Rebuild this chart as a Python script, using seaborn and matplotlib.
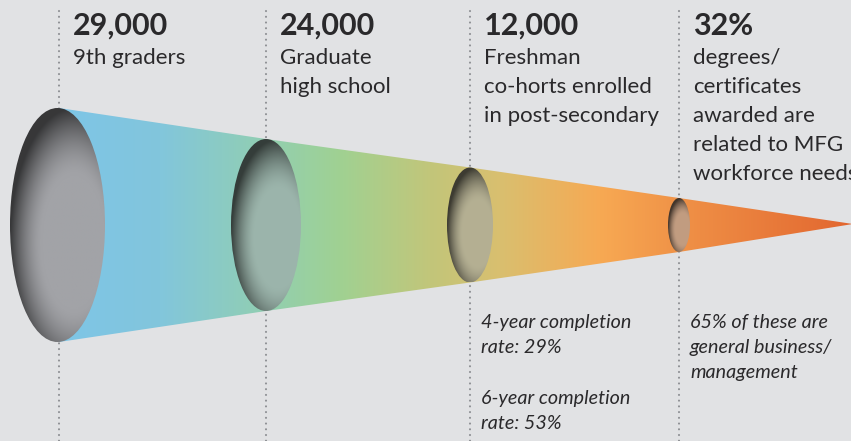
import numpy as np
import pandas as pd
import matplotlib
matplotlib.use("Agg")
import matplotlib.pyplot as plt
from matplotlib.patches import Ellipse, Polygon
from matplotlib.colors import to_rgb
import seaborn as sns

# ---------------- data ----------------
headline_values = ["29,000", "24,000", "12,000", "32%"]
stage_descriptions = [
    ["9th graders"],
    ["Graduate", "high school"],
    ["Freshman", "co-horts enrolled", "in post-secondary"],
    ["degrees/", "certificates", "awarded are", "related to MFG", "workforce needs"],
]
stage_notes = [
    [],
    [],
    ["4-year completion", "rate: 29%", "", "6-year completion", "rate: 53%"],
    ["65% of these are", "general business/", "management"],
]

# ---------------- layout / style ----------------
W, H = 851, 441
BG = "#e1e2e4"
TEXT = "#2a292b"
DOT = "#8d8f93"
stage_x = [59, 266, 470, 679]
ring_half_h = [117, 86, 57.5, 27]
ring_half_w = [47.5, 35, 23, 11]
center_y = 225
apex = (853, 224)
grad_stops = [
    (59, "#7ec5e7"), (160, "#82c6dc"), (270, "#92cfb0"), (340, "#a0d192"),
    (430, "#c2c67a"), (500, "#d9bf6f"), (600, "#f7a953"), (700, "#ee8c44"),
    (853, "#e2662f"),
]

sns.set_theme(style="white")
plt.rcParams["font.family"] = ["Lato", "DejaVu Sans"]

fig = plt.figure(figsize=(W / 100, H / 100), dpi=100, facecolor=BG)
ax = fig.add_axes([0, 0, 1, 1])
ax.set_facecolor(BG)

# dotted guide lines (seaborn)
guide = pd.DataFrame({
    "stage": np.repeat(np.arange(len(stage_x)), 2),
    "x": np.repeat(stage_x, 2),
    "y": [11, H] * len(stage_x),
})
sns.lineplot(data=guide, x="x", y="y", units="stage", estimator=None, sort=False,
             orient="y", color=DOT, lw=1.5, linestyle=(0, (0.05, 2.7)),
             dash_capstyle="round", ax=ax, zorder=1, legend=False)
ax.set_xlim(0, W)
ax.set_ylim(H, 0)
ax.axis("off")

# cone gradient
xs = np.arange(0, W + 3)
sx = [s[0] for s in grad_stops]
cols = np.array([to_rgb(s[1]) for s in grad_stops])
grad = np.stack([np.interp(xs, sx, cols[:, k]) for k in range(3)], axis=-1)[None, :, :]
top_pts = [(x, center_y - h) for x, h in zip(stage_x, ring_half_h)]
bot_pts = [(x, center_y + h) for x, h in zip(stage_x, ring_half_h)][::-1]
cone = Polygon(top_pts + [apex] + bot_pts, closed=True, facecolor="none", edgecolor="none")
ax.add_patch(cone)
im = ax.imshow(grad, extent=(0, W + 3, H, 0), aspect="auto", zorder=2, interpolation="bilinear")
im.set_clip_path(cone)


def cone_color(x):
    return np.array([np.interp(x, sx, cols[:, k]) for k in range(3)])


gray = np.array(to_rgb("#a2a3a7"))
for i, (x, a, b) in enumerate(zip(stage_x, ring_half_w, ring_half_h)):
    cx = x - 1.5 if i == 0 else x
    n = 200
    u, v = np.meshgrid(np.linspace(-1, 1, n), np.linspace(-1, 1, n))
    d = np.sqrt(((u - 0.35) / 1.35) ** 2 + ((v - 0.15) / 1.15) ** 2)
    dark = np.clip((d - 0.5) / 0.5, 0, 1) ** 1.6 * 0.66
    if i == 0:
        base = gray
    else:
        base = 0.6 * gray + 0.4 * cone_color(x)
    img = base[None, None, :] * (1 - dark[..., None])
    el = Ellipse((cx, center_y), 2 * a, 2 * b, facecolor="none", edgecolor="none")
    ax.add_patch(el)
    eim = ax.imshow(np.clip(img, 0, 1), extent=(cx - a, cx + a, center_y + b, center_y - b),
                    aspect="auto", zorder=3, interpolation="bilinear")
    eim.set_clip_path(el)

# texts
for x, val, desc, notes in zip(stage_x, headline_values, stage_descriptions, stage_notes):
    ax.text(x + 14, 35, val, fontsize=22, fontweight="bold", color=TEXT, va="baseline",
            ha="left", zorder=5)
    for j, line in enumerate(desc):
        ax.text(x + 14, 64 + 29 * j, line, fontsize=16, color=TEXT, va="baseline",
                ha="left", zorder=5)
    for j, line in enumerate(notes):
        if line:
            ax.text(x + 11, 328 + 25.2 * j, line, fontsize=14.2, style="italic", color=TEXT,
                    va="baseline", ha="left", zorder=5)

ax.set_xlim(0, W)
ax.set_ylim(H, 0)
fig.savefig("out.png", dpi=100, facecolor=BG)
